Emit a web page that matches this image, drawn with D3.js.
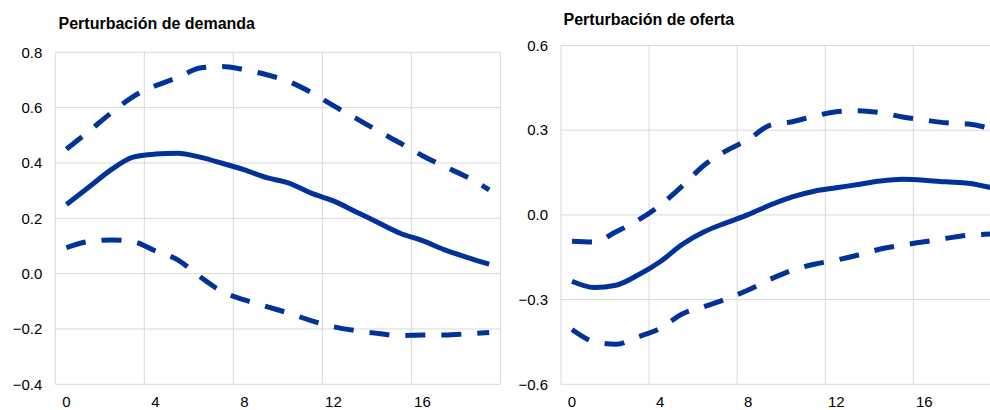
<!DOCTYPE html>
<html>
<head>
<meta charset="utf-8">
<script src="https://cdn.jsdelivr.net/npm/d3@7"></script>
<style>
  body { margin: 0; background: #fff; }
  svg { display: block; font-family: "Liberation Sans", Arial, sans-serif; }
</style>
</head>
<body>
<svg id="chart" width="990" height="410"></svg>
<script>
// horizons (quarters)
const horizons = [0,1,2,3,4,5,6,7,8,9,10,11,12,13,14,15,16,17,18,19];
const xTickLabels = [0, 4, 8, 12, 16];

// demand shock
const demandMedian = [0.25,0.312,0.375,0.421,0.432,0.435,0.421,0.399,0.375,0.347,0.327,0.291,0.263,0.224,0.185,0.146,0.119,0.086,0.059,0.034];
const demandUpper  = [0.45,0.514,0.58,0.64,0.679,0.709,0.743,0.749,0.737,0.719,0.694,0.655,0.607,0.562,0.516,0.472,0.426,0.387,0.349,0.303];
const demandLower  = [0.094,0.116,0.122,0.116,0.082,0.05,-0.011,-0.065,-0.095,-0.119,-0.143,-0.17,-0.192,-0.206,-0.216,-0.224,-0.222,-0.222,-0.218,-0.213];
const demandTicks  = [-0.4,-0.2,0.0,0.2,0.4,0.6,0.8];

// supply shock
const supplyMedian = [-0.235,-0.257,-0.249,-0.213,-0.166,-0.105,-0.06,-0.028,0.001,0.035,0.064,0.084,0.096,0.108,0.12,0.126,0.123,0.117,0.112,0.097];
const supplyUpper  = [-0.093,-0.096,-0.06,-0.019,0.034,0.102,0.176,0.227,0.267,0.318,0.33,0.35,0.365,0.369,0.362,0.347,0.336,0.326,0.322,0.306];
const supplyLower  = [-0.406,-0.449,-0.458,-0.432,-0.402,-0.351,-0.325,-0.298,-0.266,-0.228,-0.196,-0.175,-0.16,-0.142,-0.121,-0.107,-0.095,-0.083,-0.072,-0.068];
const supplyTicks  = [-0.6,-0.3,0.0,0.3,0.6];

const blue = "#003299";
const gridColor = "#d9d9d9";

const svg = d3.select("#chart");

function panel(opts) {
    const g = svg.append("g");
    const x = d3.scaleBand().domain(horizons).range([opts.left, opts.right]).padding(0);
    const y = d3.scaleLinear().domain(opts.domain).range([opts.bottom, opts.top]);

    // horizontal gridlines
    g.selectAll(".hgrid")
        .data(opts.yTicks)
        .enter().append("line")
        .attr("x1", opts.left).attr("x2", opts.right)
        .attr("y1", d => y(d)).attr("y2", d => y(d))
        .attr("stroke", gridColor).attr("stroke-width", 1);

    // vertical gridlines at category boundaries
    const vlines = xTickLabels.map(d => x(d)).concat([opts.right]);
    g.selectAll(".vgrid")
        .data(vlines)
        .enter().append("line")
        .attr("x1", d => d).attr("x2", d => d)
        .attr("y1", opts.top).attr("y2", opts.bottom)
        .attr("stroke", gridColor).attr("stroke-width", 1);

    // y labels
    g.selectAll(".ylab")
        .data(opts.yTicks)
        .enter().append("text")
        .attr("x", opts.left - 13)
        .attr("y", d => y(d))
        .attr("dy", "0.35em")
        .attr("text-anchor", "end")
        .attr("font-size", 15)
        .attr("fill", "#000")
        .text(d => opts.fmt(d));

    // x labels
    g.selectAll(".xlab")
        .data(xTickLabels)
        .enter().append("text")
        .attr("x", d => x(d) + x.bandwidth() / 2)
        .attr("y", 407)
        .attr("text-anchor", "middle")
        .attr("font-size", 15)
        .attr("fill", "#000")
        .text(d => d);

    // title
    g.append("text")
        .attr("x", opts.titleX)
        .attr("y", opts.titleY)
        .attr("font-size", 16)
        .attr("font-weight", "bold")
        .attr("fill", "#000")
        .text(opts.title);

    const line = d3.line()
        .x((d, i) => x(horizons[i]) + x.bandwidth() / 2)
        .y(d => y(d))
        .curve(d3.curveMonotoneX);

    [opts.upper, opts.lower].forEach(s => {
        g.append("path")
            .attr("d", line(s))
            .attr("fill", "none")
            .attr("stroke", blue)
            .attr("stroke-width", 5)
            .attr("stroke-dasharray", "20,16");
    });
    g.append("path")
        .attr("d", line(opts.median))
        .attr("fill", "none")
        .attr("stroke", blue)
        .attr("stroke-width", 5)
        .attr("stroke-linejoin", "round");
}

panel({
    left: 55.3, right: 500.3, top: 52.3, bottom: 384.3,
    domain: [-0.4, 0.8], yTicks: demandTicks, fmt: d3.format(".1f"),
    title: "Perturbación de demanda", titleX: 58.5, titleY: 29,
    median: demandMedian, upper: demandUpper, lower: demandLower
});

panel({
    left: 561, right: 1001.4, top: 45.5, bottom: 384.3,
    domain: [-0.6, 0.6], yTicks: supplyTicks, fmt: d3.format(".1f"),
    title: "Perturbación de oferta", titleX: 563.5, titleY: 25,
    median: supplyMedian, upper: supplyUpper, lower: supplyLower
});
</script>
</body>
</html>
